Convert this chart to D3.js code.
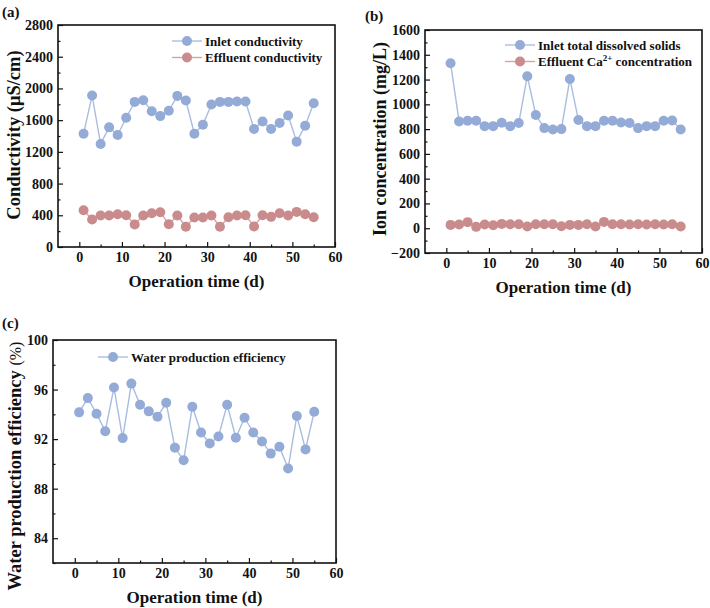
<!DOCTYPE html>
<html><head><meta charset="utf-8">
<script src="https://cdn.jsdelivr.net/npm/d3@7"></script>
<style>
body{margin:0;background:#fff;}
svg text{font-family:"Liberation Serif","Times New Roman",serif;font-weight:bold;fill:#111;}
</style></head>
<body><svg id="c" width="710" height="608"></svg>
<script>
const days = [1,3,5,7,9,11,13,15,17,19,21,23,25,27,29,31,33,35,37,39,41,43,45,47,49,51,53,55];
const inletConductivity = [1429,1910,1300,1509,1413,1630,1830,1851,1713,1651,1718,1906,1847,1429,1542,1797,1830,1830,1835,1835,1488,1584,1488,1563,1659,1329,1530,1814];
const effluentConductivity = [464,347,397,397,414,401,284,397,426,439,288,397,255,372,372,397,255,376,397,401,259,401,380,426,397,443,414,376];
const inletTDS = [1332,862,868,868,824,824,851,824,849,1227,914,808,797,800,1205,873,824,824,868,868,854,849,808,824,824,868,870,797];
const effluentCa = [27,30,49,11,30,24,35,32,32,14,32,32,32,16,27,27,32,14,51,32,32,30,32,30,32,30,32,14];
const waterEfficiency = [94.16,95.31,94.05,92.64,96.16,92.08,96.48,94.77,94.24,93.81,94.93,91.31,90.29,94.61,92.53,91.65,92.21,94.77,92.11,93.73,92.53,91.81,90.83,91.39,89.63,93.87,91.17,94.21];
const xTicks = [0,10,20,30,40,50,60];
const xMinor = [5,15,25,35,45,55];
const yTicksA = [0,400,800,1200,1600,2000,2400,2800];
const yTicksB = [-200,0,200,400,600,800,1000,1200,1400,1600];
const yTicksC = [84,88,92,96,100];

const BLUE = "#93abd6", BLUE_L = "#a9bde0", RED = "#c98b8b", RED_L = "#d4a3a3";
const svg = d3.select("#c");

function panel(o){
  const g = svg.append("g");
  const x = d3.scaleLinear().domain([-5,60]).range([o.l,o.r]);
  const y = d3.scaleLinear().domain(o.yd).range([o.b,o.t]);
  const yMinor = d3.range(o.yd[0], o.yd[1]+1e-9, o.ym).filter(v=>!o.yt.some(t=>Math.abs(t-v)<1e-9));
  g.append("g").attr("transform",`translate(${o.l},0)`).call(d3.axisLeft(y).tickValues(yMinor).tickSize(-2.5).tickFormat(""))
    .call(a=>a.select(".domain").remove());
  g.append("g").attr("transform",`translate(0,${o.b})`).call(d3.axisBottom(x).tickValues(xMinor).tickSize(-2.5).tickFormat(""))
    .call(a=>a.select(".domain").remove());
  const ya = g.append("g").attr("transform",`translate(${o.l},0)`).call(d3.axisLeft(y).tickValues(o.yt).tickSize(-5).tickPadding(5).tickFormat(d3.format("d")));
  ya.select(".domain").remove();
  ya.selectAll("text").style("font-size","14px").style("font-family",null);
  const xa = g.append("g").attr("transform",`translate(0,${o.b})`).call(d3.axisBottom(x).tickValues(xTicks).tickSize(-5).tickPadding(5));
  xa.select(".domain").remove();
  xa.selectAll("text").style("font-size","14px").style("font-family",null);
  g.selectAll(".tick line").attr("stroke","#111").attr("stroke-width",1.2);
  g.append("rect").attr("x",o.l).attr("y",o.t).attr("width",o.r-o.l).attr("height",o.b-o.t)
    .attr("fill","none").attr("stroke","#111").attr("stroke-width",1.6);
  o.series.forEach(s=>{
    const line = d3.line().x((d,i)=>x(days[i])).y(d=>y(d));
    g.append("path").datum(s.v).attr("d",line).attr("fill","none").attr("stroke",s.lc).attr("stroke-width",1.4);
    g.selectAll(null).data(s.v).enter().append("circle")
      .attr("cx",(d,i)=>x(days[i])).attr("cy",d=>y(d)).attr("r",5).attr("fill",s.c);
  });
  o.series.forEach((s,i)=>{
    const ly = o.leg[1] + i*16.5;
    g.append("line").attr("x1",o.leg[0]).attr("x2",o.leg[0]+30).attr("y1",ly).attr("y2",ly).attr("stroke",s.lc).attr("stroke-width",1.4);
    g.append("circle").attr("cx",o.leg[0]+15).attr("cy",ly).attr("r",5).attr("fill",s.c);
    const t = g.append("text").attr("x",o.leg[0]+33).attr("y",ly+4.5).style("font-size","13px");
    s.name(t);
  });
  g.append("text").attr("x",(o.l+o.r)/2).attr("y",o.b+40).attr("text-anchor","middle").style("font-size","17px").text("Operation time (d)");
  g.append("text").attr("transform",`translate(${o.ytx},${o.ytc}) rotate(-90)`).attr("text-anchor","middle").style("font-size",o.yfs+"px").call(o.ytitle);
  g.append("text").attr("x",o.pl[0]).attr("y",o.pl[1]).style("font-size","15px").text(o.label);
}

panel({l:58,r:335,t:25,b:247,yd:[0,2800],yt:yTicksA,ym:200,leg:[172,41],ytx:20,ytc:135,yfs:18.5,pl:[2,17],label:"(a)",
  ytitle:t=>t.text("Conductivity (μS/cm)"),
  series:[{v:inletConductivity,c:BLUE,lc:BLUE_L,name:t=>t.text("Inlet conductivity")},
          {v:effluentConductivity,c:RED,lc:RED_L,name:t=>t.text("Effluent conductivity")}]});

panel({l:425,r:702,t:30,b:253,yd:[-200,1600],yt:yTicksB,ym:100,leg:[505,45],ytx:386,ytc:139,yfs:18,pl:[365,21],label:"(b)",
  ytitle:t=>t.text("Ion concentration (mg/L)"),
  series:[{v:inletTDS,c:BLUE,lc:BLUE_L,name:t=>t.text("Inlet total dissolved solids")},
          {v:effluentCa,c:RED,lc:RED_L,name:t=>{t.append("tspan").text("Effluent Ca");t.append("tspan").attr("dy",-5).style("font-size","9px").text("2+");t.append("tspan").attr("dy",5).text(" concentration");}}]});

panel({l:53,r:336,t:340,b:563,yd:[82,100],yt:yTicksC,ym:2,leg:[98,357],ytx:21,ytc:466,yfs:18.5,pl:[2,328],label:"(c)",
  ytitle:t=>{t.append("tspan").text("Water production efficiency ");t.append("tspan").style("font-weight","normal").style("font-size","16px").text("(%)");},
  series:[{v:waterEfficiency,c:BLUE,lc:BLUE_L,name:t=>t.text("Water production efficiency")}]});
</script></body></html>
